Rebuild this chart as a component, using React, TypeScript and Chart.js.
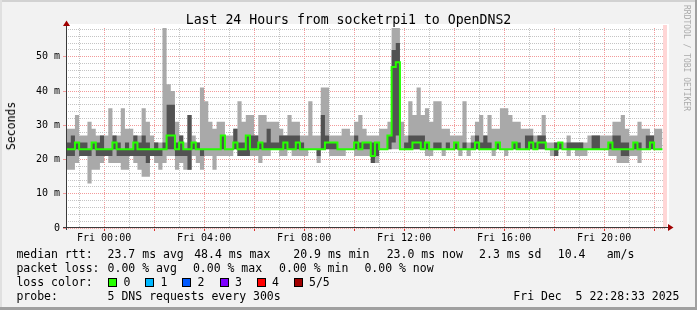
import React, { useEffect, useRef } from 'react';
import { Chart, registerables } from 'chart.js';

Chart.register(...registerables);

// ---- time axis (hours relative to Fri 00:00) ----
const nowHour = 22 + 28 / 60 + 33 / 3600; // Fri Dec 5 22:28:33
const viewStartHour = nowHour - 24;
const firstStepHour = -1.5; // Thu 22:30
const stepHours = 10 / 60;

const xTickHours = [-1, 0, 1, 2, 3, 4, 5, 6, 7, 8, 9, 10, 11, 12, 13, 14, 15, 16, 17, 18, 19, 20, 21, 22];
const xLabelHours = [0, 4, 8, 12, 16, 20];
const xLabels = ['Fri 00:00', 'Fri 04:00', 'Fri 08:00', 'Fri 12:00', 'Fri 16:00', 'Fri 20:00'];

const yTickValues = [0, 2, 4, 6, 8, 10, 12, 14, 16, 18, 20, 22, 24, 26, 28, 30, 32, 34, 36, 38, 40, 42, 44, 46, 48, 50, 52, 54, 56, 58];
const yLabelValues = [0, 10, 20, 30, 40, 50];
const yLabels = ['0', '10 m', '20 m', '30 m', '40 m', '50 m'];
const yMax = 58.4;

// ---- ping data (ms), one value per 10-minute step ----
const minRtt = [
  21, 17, 17, 19, 21, 21, 13, 17, 17, 19,
  21, 19, 19, 19, 17, 17, 21, 19, 17, 15,
  15, 21, 19, 17, 19, 21, 21, 17, 19, 17,
  17, 21, 19, 17, 21, 21, 17, 21, 21, 21,
  21, 23, 21, 21, 21, 21, 21, 19, 21, 21,
  23, 23, 21, 21, 23, 21, 21, 21, 21, 23,
  23, 19, 23, 23, 21, 21, 21, 21, 23, 23,
  21, 21, 21, 21, 19, 19, 23, 23, 23, 23,
  23, 23, 23, 23, 23, 23, 23, 21, 21, 23,
  23, 21, 23, 23, 23, 21, 23, 21, 23, 23,
  23, 23, 23, 21, 23, 23, 21, 23, 23, 23,
  23, 23, 23, 23, 23, 23, 23, 21, 21, 23,
  23, 21, 23, 21, 21, 21, 23, 23, 23, 23,
  23, 21, 21, 19, 19, 19, 21, 21, 19, 23,
  23, 23, 23,
];
const lowRtt = [
  23, 21, 21, 23, 21, 21, 21, 23, 21, 21,
  21, 21, 23, 21, 21, 21, 21, 21, 21, 21,
  19, 21, 21, 21, 23, 23, 23, 21, 21, 21,
  17, 23, 23, 21, 23, 23, 23, 23, 23, 23,
  23, 23, 21, 21, 21, 23, 23, 23, 23, 23,
  23, 23, 23, 23, 23, 23, 23, 23, 23, 23,
  23, 21, 23, 23, 23, 23, 23, 23, 23, 23,
  23, 23, 23, 23, 19, 21, 23, 23, 23, 25,
  27, 23, 23, 23, 23, 23, 23, 23, 23, 23,
  23, 23, 23, 23, 23, 23, 23, 23, 23, 23,
  23, 23, 23, 23, 23, 23, 23, 23, 23, 23,
  23, 23, 23, 23, 23, 23, 23, 23, 21, 23,
  23, 23, 23, 23, 23, 23, 23, 23, 23, 23,
  23, 23, 23, 23, 21, 21, 23, 23, 23, 23,
  23, 23, 23,
];
const medianRtt = [
  23, 23, 23, 25, 23, 23, 23, 25, 23, 23,
  23, 23, 25, 23, 23, 23, 23, 25, 23, 23,
  23, 23, 23, 23, 23, 27, 27, 23, 25, 23,
  23, 25, 23, 23, 23, 23, 23, 23, 27, 23,
  23, 25, 23, 23, 27, 23, 23, 25, 23, 23,
  23, 23, 23, 25, 23, 23, 25, 23, 23, 23,
  23, 23, 23, 25, 25, 25, 23, 23, 23, 23,
  25, 23, 25, 25, 21, 25, 23, 23, 27, 47,
  48.4, 23, 23, 23, 25, 25, 23, 25, 23, 23,
  23, 23, 23, 23, 25, 23, 23, 23, 23, 25,
  23, 23, 23, 23, 25, 23, 23, 23, 25, 23,
  23, 23, 25, 23, 25, 25, 23, 23, 23, 25,
  23, 23, 23, 23, 23, 23, 23, 23, 23, 23,
  23, 25, 23, 23, 23, 23, 23, 25, 23, 23,
  23, 25, 23,
];
const highRtt = [
  23, 25, 27, 25, 25, 25, 23, 25, 25, 27,
  23, 23, 27, 25, 23, 25, 23, 27, 25, 27,
  25, 23, 25, 23, 25, 36, 36, 25, 27, 23,
  33, 25, 25, 23, 23, 23, 23, 23, 27, 23,
  23, 29, 25, 25, 27, 27, 27, 25, 25, 29,
  25, 25, 27, 27, 27, 27, 27, 25, 23, 23,
  23, 23, 33, 27, 25, 25, 23, 23, 23, 23,
  27, 25, 25, 25, 25, 25, 23, 23, 27, 52,
  54, 23, 25, 27, 27, 27, 27, 25, 23, 25,
  25, 23, 25, 23, 25, 23, 25, 23, 25, 27,
  25, 27, 25, 23, 25, 23, 23, 23, 25, 25,
  23, 27, 27, 25, 27, 27, 23, 23, 25, 25,
  23, 25, 25, 25, 25, 23, 23, 27, 27, 23,
  23, 25, 27, 27, 25, 25, 23, 25, 25, 23,
  27, 27, 23,
];
const maxRtt = [
  27, 29, 29, 33, 27, 27, 31, 29, 27, 27,
  27, 35, 27, 27, 35, 29, 29, 27, 27, 35,
  31, 27, 25, 25, 58.4, 42, 40, 31, 27, 25,
  33, 27, 25, 41, 37, 31, 29, 31, 31, 27,
  27, 29, 37, 31, 33, 33, 27, 33, 33, 31,
  31, 31, 29, 27, 33, 31, 31, 27, 27, 37,
  27, 27, 41, 41, 27, 27, 27, 29, 29, 27,
  31, 33, 29, 27, 27, 27, 29, 29, 31, 58.4,
  58.4, 31, 27, 37, 33, 41, 33, 35, 31, 37,
  37, 29, 29, 27, 27, 27, 37, 25, 27, 31,
  33, 27, 33, 29, 29, 35, 35, 33, 31, 31,
  29, 29, 29, 27, 27, 33, 25, 25, 25, 25,
  25, 27, 25, 25, 25, 25, 27, 27, 27, 27,
  27, 27, 31, 31, 33, 29, 27, 27, 31, 29,
  29, 27, 29,
];

const lossColors = ['#26ff00', '#00b8ff', '#0059ff', '#7e00ff', '#ff0000', '#a10000'];
const lossLabels = ['0', '1', '2', '3', '4', '5/5'];

const LIGHT = '#a9a9a9';
const DARK = '#525252';
const MINOR_GRID = '#c4c4c4';
const MAJOR_GRID = '#f29a9a';
const MONO = "'DejaVu Sans Mono', monospace";

function toPoints(arr: number[]) {
  const pts = arr.map((v, i) => ({ x: firstStepHour + i * stepHours, y: v }));
  pts.push({ x: firstStepHour + arr.length * stepHours, y: arr[arr.length - 1] });
  return pts;
}

const framePlugin = {
  id: 'rrdFrame',
  beforeDraw(chart: any) {
    const { ctx, chartArea: a } = chart;
    ctx.save();
    ctx.fillStyle = '#ffffff';
    ctx.fillRect(a.left, a.top - 4, a.right - a.left + 3, a.bottom - a.top + 4);
    ctx.restore();
  },
  afterDatasetsDraw(chart: any) {
    const { ctx, chartArea: a, scales } = chart;
    const nowPx = scales.x.getPixelForValue(nowHour);
    ctx.save();
    ctx.fillStyle = '#ffd6d6';
    ctx.fillRect(nowPx - 3, a.top - 3, 4, a.bottom - a.top + 3);
    ctx.strokeStyle = '#3a3a3a';
    ctx.lineWidth = 1;
    ctx.beginPath();
    ctx.moveTo(a.left + 0.5, a.top - 3);
    ctx.lineTo(a.left + 0.5, a.bottom + 2);
    ctx.moveTo(a.left - 3, a.bottom - 0.5);
    ctx.lineTo(a.right + 2, a.bottom - 0.5);
    ctx.stroke();
    ctx.fillStyle = '#a00000';
    ctx.beginPath();
    ctx.moveTo(a.left + 0.5, a.top - 7.5);
    ctx.lineTo(a.left - 3, a.top - 2);
    ctx.lineTo(a.left + 4, a.top - 2);
    ctx.closePath();
    ctx.fill();
    ctx.beginPath();
    ctx.moveTo(a.right + 7.5, a.bottom - 0.5);
    ctx.lineTo(a.right + 2, a.bottom - 4);
    ctx.lineTo(a.right + 2, a.bottom + 3);
    ctx.closePath();
    ctx.fill();
    ctx.restore();
  },
};

function Txt(props: { x: number; base: number; size: number; children: any; color?: string }) {
  const ascent = props.size * 0.928;
  return (
    <div
      style={{
        position: 'absolute',
        left: props.x,
        top: props.base - ascent,
        fontFamily: MONO,
        fontSize: props.size,
        lineHeight: 'normal',
        whiteSpace: 'pre',
        color: props.color || '#000',
      }}
    >
      {props.children}
    </div>
  );
}

export default function App() {
  const canvasRef = useRef<HTMLCanvasElement>(null);

  useEffect(() => {
    document.body.style.margin = '0';
    const canvas = canvasRef.current;
    if (!canvas) return;
    const common = { stepped: 'after' as const, pointRadius: 0, pointHoverRadius: 0, borderWidth: 0 };
    const chart = new Chart(canvas, {
      type: 'line',
      data: {
        datasets: [
          { ...common, label: 'median rtt', data: toPoints(medianRtt), borderColor: lossColors[0], borderWidth: 2, fill: false },
          { ...common, label: 'ping 4', data: toPoints(highRtt), backgroundColor: DARK, fill: 2 },
          { ...common, label: 'ping 2', data: toPoints(lowRtt), fill: false },
          { ...common, label: 'ping 5', data: toPoints(maxRtt), backgroundColor: LIGHT, fill: 4 },
          { ...common, label: 'ping 1', data: toPoints(minRtt), fill: false },
        ] as any,
      },
      options: {
        responsive: false,
        animation: false,
        devicePixelRatio: 1,
        events: [],
        layout: { padding: { left: 0, top: 28, right: 31, bottom: 62 } },
        plugins: { legend: { display: false }, tooltip: { enabled: false }, title: { display: false } },
        scales: {
          x: {
            type: 'linear',
            min: viewStartHour,
            max: nowHour,
            afterBuildTicks: (s: any) => {
              s.ticks = xTickHours.map((v) => ({ value: v }));
            },
            afterFit: (s: any) => {
              s.height = 20;
            },
            grid: {
              color: (c: any) => (c.tick && c.tick.value % 2 === 0 ? MAJOR_GRID : MINOR_GRID),
              lineWidth: 1,
              drawTicks: true,
              tickLength: 3,
              tickColor: (c: any) => (c.tick && c.tick.value % 2 === 0 ? '#e03030' : 'rgba(0,0,0,0)'),
            },
            border: { display: false, dash: [1, 1] },
            ticks: {
              autoSkip: false,
              maxRotation: 0,
              padding: 1,
              color: '#000',
              font: { family: MONO, size: 10 },
              callback: (v: any) => {
                const k = xLabelHours.indexOf(Number(v));
                return k >= 0 ? xLabels[k] : '';
              },
            },
          },
          y: {
            type: 'linear',
            min: 0,
            max: yMax,
            afterBuildTicks: (s: any) => {
              s.ticks = yTickValues.map((v) => ({ value: v }));
            },
            afterFit: (s: any) => {
              s.width = 66;
            },
            grid: {
              color: (c: any) => (c.tick && c.tick.value % 10 === 0 ? MAJOR_GRID : MINOR_GRID),
              lineWidth: 1,
              drawTicks: true,
              tickLength: 3,
              tickColor: (c: any) => (c.tick && c.tick.value % 10 === 0 ? MAJOR_GRID : 'rgba(0,0,0,0)'),
            },
            border: { display: false, dash: [1, 1] },
            ticks: {
              autoSkip: false,
              padding: 3,
              color: '#000',
              font: { family: MONO, size: 10 },
              callback: (v: any) => {
                const k = yLabelValues.indexOf(Number(v));
                return k >= 0 ? yLabels[k] : '';
              },
            },
          },
        },
      } as any,
      plugins: [framePlugin],
    });
    return () => chart.destroy();
  }, []);

  const boxX = [108, 145, 182, 219.5, 256.5, 293.5];

  return (
    <div
      style={{
        position: 'absolute',
        left: 0,
        top: 0,
        width: 697,
        height: 310,
        background: '#f2f2f2',
        overflow: 'hidden',
      }}
    >
      <div style={{ position: 'absolute', left: 0, top: 0, width: 697, height: 2, background: '#d2d2d2' }} />
      <div style={{ position: 'absolute', left: 0, top: 0, width: 2, height: 310, background: '#e0e0e0' }} />
      <div style={{ position: 'absolute', right: 0, top: 0, width: 2, height: 310, background: '#a0a0a0' }} />
      <div style={{ position: 'absolute', left: 0, bottom: 0, width: 697, height: 3, background: '#a0a0a0' }} />
      <canvas
        ref={canvasRef}
        width={697}
        height={310}
        style={{ position: 'absolute', left: 0, top: 0, width: 697, height: 310 }}
      />
      <div
        style={{
          position: 'absolute',
          left: 0,
          top: 12,
          width: 697,
          textAlign: 'center',
          fontFamily: MONO,
          fontSize: 13.2,
          lineHeight: 'normal',
          whiteSpace: 'pre',
          color: '#000',
        }}
      >
        Last 24 Hours from socketrpi1 to OpenDNS2
      </div>
      <div
        style={{
          position: 'absolute',
          left: 11,
          top: 126,
          transform: 'translate(-50%, -50%) rotate(180deg)',
          writingMode: 'vertical-rl',
          fontFamily: MONO,
          fontSize: 11.5,
          lineHeight: 'normal',
          whiteSpace: 'pre',
          color: '#000',
        }}
      >
        Seconds
      </div>
      <div
        style={{
          position: 'absolute',
          left: 682,
          top: 5,
          writingMode: 'vertical-rl',
          fontFamily: MONO,
          fontSize: 8,
          lineHeight: 'normal',
          whiteSpace: 'pre',
          color: '#ababab',
        }}
      >
        RRDTOOL / TOBI OETIKER
      </div>

      <Txt x={16.4} base={258} size={11.5}>median rtt:</Txt>
      <Txt x={107.6} base={258} size={11.5}>23.7 ms avg</Txt>
      <Txt x={194.2} base={258} size={11.5}>48.4 ms max</Txt>
      <Txt x={293.3} base={258} size={11.5}>20.9 ms min</Txt>
      <Txt x={386.7} base={258} size={11.5}>23.0 ms now</Txt>
      <Txt x={479.1} base={258} size={11.5}>2.3 ms sd</Txt>
      <Txt x={557.8} base={258} size={11.5}>10.4</Txt>
      <Txt x={606.7} base={258} size={11.5}>am/s</Txt>

      <Txt x={16.4} base={272} size={11.5}>packet loss:</Txt>
      <Txt x={107.6} base={272} size={11.5}>0.00 % avg</Txt>
      <Txt x={192.9} base={272} size={11.5}>0.00 % max</Txt>
      <Txt x={279.1} base={272} size={11.5}>0.00 % min</Txt>
      <Txt x={364.4} base={272} size={11.5}>0.00 % now</Txt>

      <Txt x={16.4} base={286} size={11.5}>loss color:</Txt>
      {lossColors.map((c, k) => (
        <React.Fragment key={k}>
          <div
            style={{
              position: 'absolute',
              left: boxX[k],
              top: 278,
              width: 9,
              height: 9,
              boxSizing: 'border-box',
              border: '1px solid #000',
              background: c,
            }}
          />
          <Txt x={boxX[k] + 15.5} base={286} size={11.5}>{lossLabels[k]}</Txt>
        </React.Fragment>
      ))}

      <Txt x={16.4} base={299.5} size={11.5}>probe:</Txt>
      <Txt x={107.6} base={299.5} size={11.5}>5 DNS requests every 300s</Txt>
      <Txt x={513.3} base={299.5} size={11.5}>Fri Dec  5 22:28:33 2025</Txt>
    </div>
  );
}
